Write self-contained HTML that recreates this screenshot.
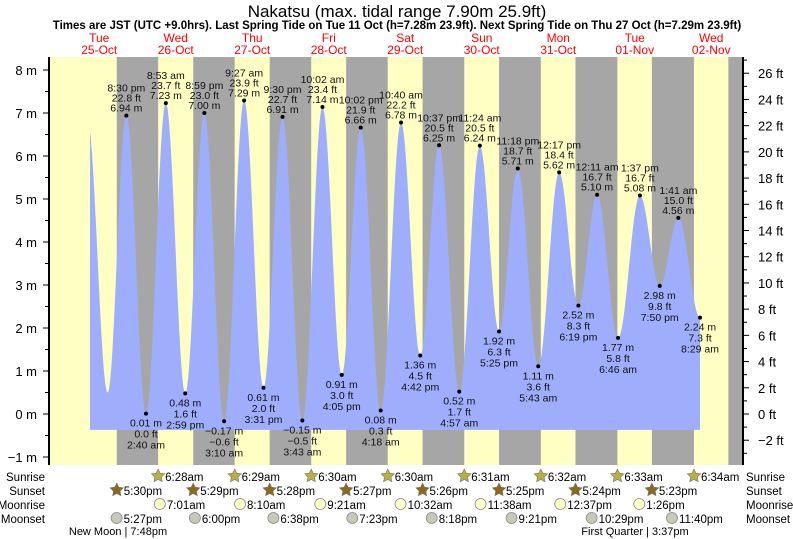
<!DOCTYPE html>
<html><head><meta charset="utf-8"><style>
body{margin:0;background:#fff;}
svg{display:block;font-family:"Liberation Sans",sans-serif;}
</style></head><body>
<svg id="c" width="793" height="539" viewBox="0 0 793 539">
<text x="397" y="17" font-size="17" text-anchor="middle" fill="#000">Nakatsu (max. tidal range 7.90m 25.9ft)</text>
<text x="397" y="29" font-size="11.5" font-weight="bold" text-anchor="middle" fill="#000">Times are JST (UTC +9.0hrs). Last Spring Tide on Tue 11 Oct (h=7.28m 23.9ft). Next Spring Tide on Thu 27 Oct (h=7.29m 23.9ft)</text>
<g id="bg"></g><g id="fill"></g><g id="lbl"></g><g id="axes"></g><g id="rows"></g>
</svg>
<script>
// ---- data ----
const dayNames = ["Tue","Wed","Thu","Fri","Sat","Sun","Mon","Tue","Wed"];
const dayDates = ["25-Oct","26-Oct","27-Oct","28-Oct","29-Oct","30-Oct","31-Oct","01-Nov","02-Nov"];
// tide extremes: hours since 25-Oct 00:00
const tideHours = [8.25,14.63,20.5,26.67,32.88,38.98,44.98,51.17,57.45,63.52,69.5,75.72,82.03,88.08,94.03,100.3,106.67,112.7,118.62,124.95,131.4,137.42,143.3,149.72,156.28,162.32,168.18,174.77,181.62,187.83,193.68,200.48];
const tideMeters = [6.85,0.5,6.94,0.01,7.23,0.48,7.00,-0.17,7.29,0.61,6.91,-0.15,7.14,0.91,6.66,0.08,6.78,1.36,6.25,0.52,6.24,1.92,5.71,1.11,5.62,2.52,5.10,1.77,5.08,2.98,4.56,2.24];
const tideFeet = ["22.5","1.6","22.8","0.0","23.7","1.6","23.0","-0.6","23.9","2.0","22.7","-0.5","23.4","3.0","21.9","0.3","22.2","4.5","20.5","1.7","20.5","6.3","18.7","3.6","18.4","8.3","16.7","5.8","16.7","9.8","15.0","7.3"];
const tideTimes = ["","","8:30 pm","2:40 am","8:53 am","2:59 pm","8:59 pm","3:10 am","9:27 am","3:31 pm","9:30 pm","3:43 am","10:02 am","4:05 pm","10:02 pm","4:18 am","10:40 am","4:42 pm","10:37 pm","4:57 am","11:24 am","5:25 pm","11:18 pm","5:43 am","12:17 pm","6:19 pm","12:11 am","6:46 am","1:37 pm","7:50 pm","1:41 am","8:29 am"];
const sunriseHours = [30.47,54.48,78.5,102.5,126.52,150.53,174.55,198.57];
const sunriseLabels = ["6:28am","6:29am","6:30am","6:30am","6:31am","6:32am","6:33am","6:34am"];
const sunsetHours = [17.5,41.48,65.47,89.45,113.43,137.42,161.4,185.38,209.37];
const sunsetLabels = ["5:30pm","5:29pm","5:28pm","5:27pm","5:26pm","5:25pm","5:24pm","5:23pm",""];
const moonriseHours = [31.02,56.17,81.35,106.53,131.63,156.62,181.43];
const moonriseLabels = ["7:01am","8:10am","9:21am","10:32am","11:38am","12:37pm","1:26pm"];
const moonsetHours = [17.45,42.0,66.63,91.38,116.3,141.35,166.48,191.67];
const moonsetLabels = ["5:27pm","6:00pm","6:38pm","7:23pm","8:18pm","9:21pm","10:29pm","11:40pm"];
const meterTicks = [-1,0,1,2,3,4,5,6,7,8];
const feetTicks = [-2,0,2,4,6,8,10,12,14,16,18,20,22,24,26];

// ---- scales ----
const X0=49, X1=743, YT=57, YB=465;
const xh = h => 61 + h*76.5/24;
const ym = m => 414 - m*43;
const yf = f => ym(f/3.28084);
const NS="http://www.w3.org/2000/svg";
function mk(parent,tag,attrs,text){const e=document.createElementNS(NS,tag);for(const k in attrs)e.setAttribute(k,attrs[k]);if(text!==undefined)e.textContent=text;parent.appendChild(e);return e;}
const svg=document.getElementById('c');
const bg=document.getElementById('bg'),fl=document.getElementById('fill'),lbl=document.getElementById('lbl'),ax=document.getElementById('axes'),rows=document.getElementById('rows');

// day labels
dayNames.forEach((d,i)=>{
 const t1=mk(svg,'text',{x:xh(i*24+12),y:42,'font-size':12,fill:'#f00','text-anchor':'middle'},d);
 
 
 const t2=mk(svg,'text',{x:xh(i*24+12),y:54,'font-size':12,fill:'#f00','text-anchor':'middle'},dayDates[i]);
 
 
});

// background: day yellow, night gray
const day=mk(bg,'rect',{x:X0,y:YT,width:X1-X0,height:YB-YT,fill:'#ffffc4'});


sunsetHours.forEach((s,i)=>{
 const a=Math.max(X0,xh(s)); const b=Math.min(X1, i<sunriseHours.length? xh(sunriseHours[i]) : X1);
 if(b>a){const r=mk(bg,'rect',{x:a,y:YT,width:b-a,height:YB-YT,fill:'#a6a6a6'});
 
 }
});

// tide curve
const fillBottom=ym(-0.37);
const xs=90, xe=xh(tideHours[tideHours.length-1]);
function level(h){
 for(let i=0;i<tideHours.length-1;i++){
  if(h>=tideHours[i]&&h<=tideHours[i+1]){const f=(h-tideHours[i])/(tideHours[i+1]-tideHours[i]);
   return tideMeters[i]+(tideMeters[i+1]-tideMeters[i])*(1-Math.cos(Math.PI*f))/2;}
 }
 return tideMeters[tideMeters.length-1];
}
let d=`M${xs},${fillBottom}`;
for(let x=xs;x<=xe;x+=0.5){const h=(x-61)*24/76.5;d+=` L${x},${ym(level(h)).toFixed(2)}`;}
d+=` L${xe},${fillBottom} Z`;
const p=mk(fl,'path',{d:d,fill:'#9eaefc'});



// extreme labels
tideHours.forEach((h,i)=>{
 if(!tideTimes[i])return;
 const x=xh(h),y=ym(tideMeters[i]);const hi=(i%2===0);
 const c=mk(lbl,'circle',{cx:x,cy:y,r:2,fill:'#000'});
 
 
 const m=tideMeters[i].toFixed(2).replace('-','\u2212')+' m';
 const f=tideFeet[i].replace('-','\u2212')+' ft';
 const lines=hi?[[tideTimes[i],-24],[f,-14],[m,-4]]:[[m,13],[f,24],[tideTimes[i],35]];
 lines.forEach(([s,o])=>{const t=mk(lbl,'text',{x:x,y:y+o,'font-size':10.5,fill:'#111','text-anchor':'middle'},s);
  
  });
});

// axes
mk(ax,'line',{x1:X0,y1:YT,x2:X0,y2:YB,stroke:'#000','stroke-width':2});
mk(ax,'line',{x1:X1,y1:YT,x2:X1,y2:YB,stroke:'#000','stroke-width':2});
for(let v=-1;v<=8.3;v+=0.5){mk(ax,'line',{x1:X0-(Number.isInteger(v)?6:4),y1:ym(v),x2:X0,y2:ym(v),stroke:'#000'});}
meterTicks.forEach(v=>{const t=mk(ax,'text',{x:37,y:ym(v)+5,'font-size':13,'text-anchor':'end'},(v<0?'\u2212'+(-v):v)+' m');
 
 });
for(let v=-3;v<=27;v++){const y=yf(v);if(y<YT||y>YB)continue;mk(ax,'line',{x1:X1,y1:y,x2:X1+(v%2===0?6:4),y2:y,stroke:'#000'});}
feetTicks.forEach(v=>{const t=mk(ax,'text',{x:758,y:yf(v)+5,'font-size':13},(v<0?'\u2212'+(-v):v)+' ft');
 
 });

// bottom rows
const rowY={sr:476,ss:490,mr:504,ms:518};
[["Sunrise",rowY.sr],["Sunset",rowY.ss],["Moonrise",rowY.mr],["Moonset",rowY.ms]].forEach(([n,y])=>{
 const a=mk(rows,'text',{x:45,y:y+5,'font-size':11.5,'text-anchor':'end'},n);
 
 
 const b=mk(rows,'text',{x:746,y:y+5,'font-size':11.5},n);
 
 
});
function star(cx,cy,r,fill){let pts=[];for(let k=0;k<10;k++){const a=-Math.PI/2+k*Math.PI/5;const rr=k%2?r*0.5:r;pts.push((cx+rr*Math.cos(a)).toFixed(1)+','+(cy+rr*Math.sin(a)).toFixed(1));}
 return mk(rows,'polygon',{points:pts.join(' '),fill:fill,stroke:'#776',"stroke-width":0.6});}
function evRow(hours,labels,y,kind){
 hours.forEach((h,i)=>{const x=xh(h);if(x>X1||!labels[i])return;
  let ic;
  if(kind==='sr')ic=star(x,y,7,'#b8b040');
  else if(kind==='ss')ic=star(x,y,7,'#8a6a20');
  else ic=mk(rows,'circle',{cx:x,cy:y,r:5.5,fill:kind==='mr'?'#ffffc8':'#c8c8b8',stroke:'#888','stroke-width':0.8});
  
  
  const t=mk(rows,'text',{x:x+7,y:y+5,'font-size':11.5},labels[i]);
  
  
 });
}
evRow(sunriseHours,sunriseLabels,rowY.sr,'sr');
evRow(sunsetHours,sunsetLabels,rowY.ss,'ss');
evRow(moonriseHours,moonriseLabels,rowY.mr,'mr');
evRow(moonsetHours,moonsetLabels,rowY.ms,'ms');
const nm=mk(rows,'text',{x:118,y:535,'font-size':11,'text-anchor':'middle'},'New Moon | 7:48pm');


const fq=mk(rows,'text',{x:635,y:535,'font-size':11,'text-anchor':'middle'},'First Quarter | 3:37pm');


</script>
</body></html>
